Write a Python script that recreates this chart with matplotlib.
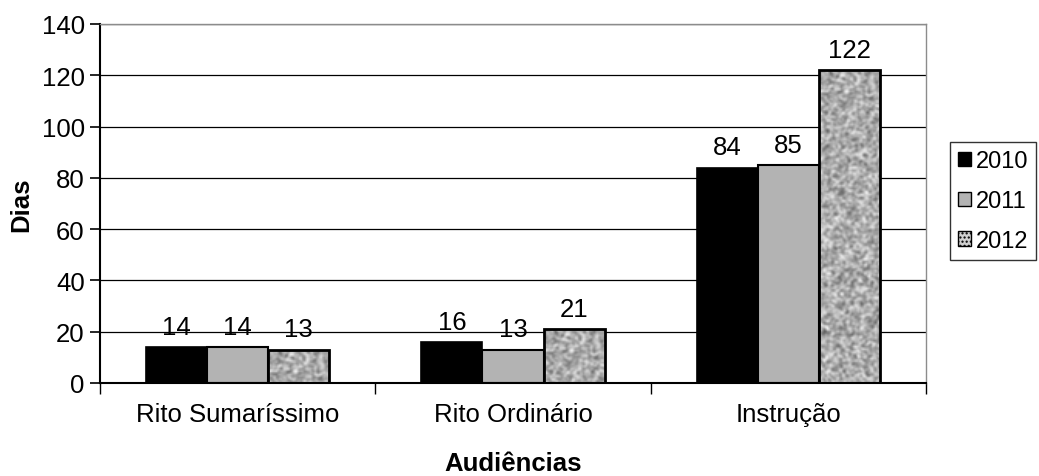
import numpy as np
import matplotlib
matplotlib.use("Agg")
import matplotlib.pyplot as plt
from matplotlib.patches import Patch

plt.rcParams['font.family'] = ['Liberation Sans', 'DejaVu Sans']

categories = ["Rito Sumaríssimo", "Rito Ordinário", "Instrução"]
years = ["2010", "2011", "2012"]
v2010 = [14, 16, 84]
v2011 = [14, 13, 85]
v2012 = [13, 21, 122]

FS = 18.5

fig = plt.figure(figsize=(10.39, 4.77), dpi=100)
ax = fig.add_axes([0.0962, 0.195, 0.795, 0.7526])

x = np.arange(len(categories))
w = 0.222

ax.set_axisbelow(True)
ax.yaxis.grid(True, color="black", linewidth=0.9)

b1 = ax.bar(x - w, v2010, w, color="black", edgecolor="black", linewidth=1.2, zorder=2)
b2 = ax.bar(x, v2011, w, color="#b3b3b3", edgecolor="black", linewidth=1.5, zorder=2)
b3 = ax.bar(x + w, v2012, w, facecolor="none", edgecolor="black", linewidth=2.0, zorder=3)

# fine speckled grey texture filling the 2012 bars
rng = np.random.default_rng(11)
rows_full, cols = 210, 40
noise = rng.random((rows_full, cols))
pad = np.pad(noise, 1, mode="wrap")
kern = np.array([[1, 2, 1], [2, 4, 2], [1, 2, 1]], float) / 16.0
smooth = sum(pad[i:i + rows_full, j:j + cols] * kern[i, j] for i in range(3) for j in range(3))
for rect in b3:
    x0, y0 = rect.get_x(), rect.get_y()
    rows = max(6, int(rows_full * rect.get_height() / 122.0))
    im = ax.imshow(smooth[:rows], cmap="gray", vmin=-0.35, vmax=0.9, aspect="auto",
                   extent=[x0, x0 + rect.get_width(), y0, y0 + rect.get_height()],
                   interpolation="bilinear", zorder=2.5)
    im.set_clip_path(rect)
ax.set_xlim(-0.5, len(categories) - 0.5)
ax.set_ylim(0, 140)

for bars, vals in ((b1, v2010), (b2, v2011), (b3, v2012)):
    for rect, v in zip(bars, vals):
        ax.annotate(str(v), (rect.get_x() + rect.get_width() / 2, v),
                    xytext=(0, 6), textcoords="offset points",
                    ha="center", va="bottom", fontsize=FS)

ax.set_yticks(np.arange(0, 141, 20))
ax.tick_params(axis="y", labelsize=FS, length=7, width=1.2, direction="out", pad=4)
ax.set_xticks(x)
ax.set_xticklabels(categories, fontsize=FS)
ax.tick_params(axis="x", length=0, pad=14)
ax.set_xticks(np.arange(-0.5, len(categories)), minor=True)
ax.tick_params(axis="x", which="minor", length=8, width=1.0, direction="out")

for s in ("top", "right"):
    ax.spines[s].set_color("#8c8c8c")
    ax.spines[s].set_linewidth(1.0)
ax.spines["left"].set_linewidth(1.5)
ax.spines["bottom"].set_linewidth(1.5)

ax.set_ylabel("Dias", fontsize=FS, fontweight="bold", labelpad=6)
ax.set_xlabel("Audiências", fontsize=FS, fontweight="bold", labelpad=18)

handles = [Patch(facecolor="black", edgecolor="black"),
           Patch(facecolor="#b3b3b3", edgecolor="black"),
           Patch(facecolor="#d0d0d0", edgecolor="black", hatch="....")]
leg = fig.legend(handles, years, loc="upper left", bbox_to_anchor=(0.914, 0.70),
                 fontsize=17, frameon=True, fancybox=False, edgecolor="black",
                 handlelength=0.55, handleheight=0.55, handletextpad=0.2,
                 borderpad=0.35, labelspacing=0.75, borderaxespad=0)
leg.get_frame().set_linewidth(1.0)

fig.savefig("out.png", dpi=100)
